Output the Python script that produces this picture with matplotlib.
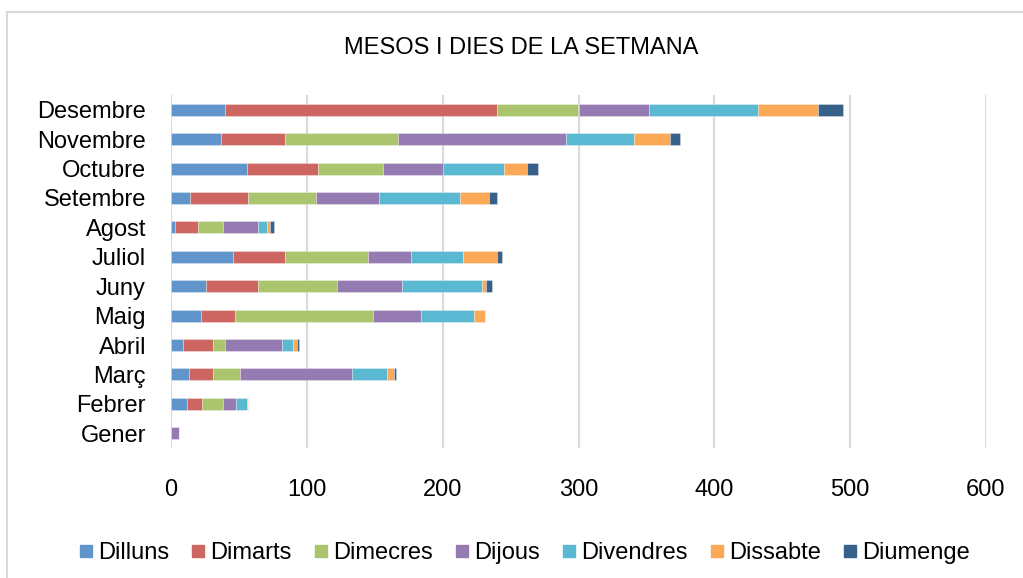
import matplotlib
matplotlib.use("Agg")
import matplotlib.pyplot as plt
from matplotlib.lines import Line2D
from matplotlib.patches import Rectangle
import numpy as np

plt.rcParams['font.family'] = ['Liberation Sans', 'DejaVu Sans']

months = ["Gener", "Febrer", "Març", "Abril", "Maig", "Juny", "Juliol",
          "Agost", "Setembre", "Octubre", "Novembre", "Desembre"]
days = ["Dilluns", "Dimarts", "Dimecres", "Dijous", "Divendres", "Dissabte", "Diumenge"]

dilluns   = [0, 12, 13,  9,  22, 26, 46,  3, 14, 56,  37,  40]
dimarts   = [0, 11, 18, 22,  25, 38, 38, 17, 43, 52,  47, 200]
dimecres  = [0, 15, 20,  9, 102, 58, 61, 18, 50, 48,  83,  60]
dijous    = [6, 10, 82, 42,  35, 48, 32, 26, 46, 44, 124,  52]
divendres = [0,  8, 26,  8,  39, 59, 38,  7, 60, 45,  50,  80]
dissabte  = [0,  1,  5,  3,   8,  3, 25,  2, 21, 17,  26,  44]
diumenge  = [0,  0,  2,  1,   0,  4,  4,  3,  6,  8,   8,  19]

series = [dilluns, dimarts, dimecres, dijous, divendres, dissabte, diumenge]
colors = ["#5F95CA", "#CD6660", "#ABC46E", "#957BB1", "#5BB8D2", "#FBA857", "#386189"]

W, H = 1023, 578
fig = plt.figure(figsize=(W / 100, H / 100), dpi=100)
fig.patch.set_facecolor("white")

# outer chart border (right and bottom edges lie outside the picture)
fig.patches.append(Rectangle((7 / W, -0.5), 1.2, 1.5 - 12 / H, transform=fig.transFigure,
                             fill=False, edgecolor="#D9D9D9", linewidth=1.5, zorder=0))

ax = fig.add_axes([171 / W, 1 - 448 / H, (986 - 171) / W, (448 - 95) / H])

y = np.arange(len(months))
left = np.zeros(len(months))
for vals, c in zip(series, colors):
    v = np.array(vals, dtype=float)
    ax.barh(y, v, left=left, height=0.41, color=c, edgecolor=(1, 1, 1, 0.35),
            linewidth=0.6, zorder=3)
    left += v

ax.set_xlim(0, 600)
ax.set_ylim(-0.5, len(months) - 0.5)
ax.set_xticks(np.arange(0, 601, 100))
ax.set_yticks(y)
ax.set_yticklabels(months)
ax.xaxis.grid(True, color="#D9D9D9", linewidth=1.5, zorder=0)
ax.set_axisbelow(True)
for s in ax.spines.values():
    s.set_visible(False)
ax.axvline(0, color="#D9D9D9", linewidth=1.5, zorder=1)
ax.tick_params(axis="both", length=0, labelsize=17, colors="black")
ax.tick_params(axis="x", pad=22)
ax.tick_params(axis="y", pad=18)

fig.text(521 / W, 1 - 48 / H, "MESOS I DIES DE LA SETMANA",
         ha="center", va="center", fontsize=17)

handles = [Line2D([], [], marker="s", linestyle="", markersize=8.8, color=c) for c in colors]
fig.legend(handles, days, loc="center", bbox_to_anchor=(525 / W, 1 - 553 / H),
           ncol=7, frameon=False, fontsize=17, handlelength=0.5, handletextpad=0.25,
           columnspacing=1.0, borderaxespad=0)

fig.savefig("out.png", dpi=100)
